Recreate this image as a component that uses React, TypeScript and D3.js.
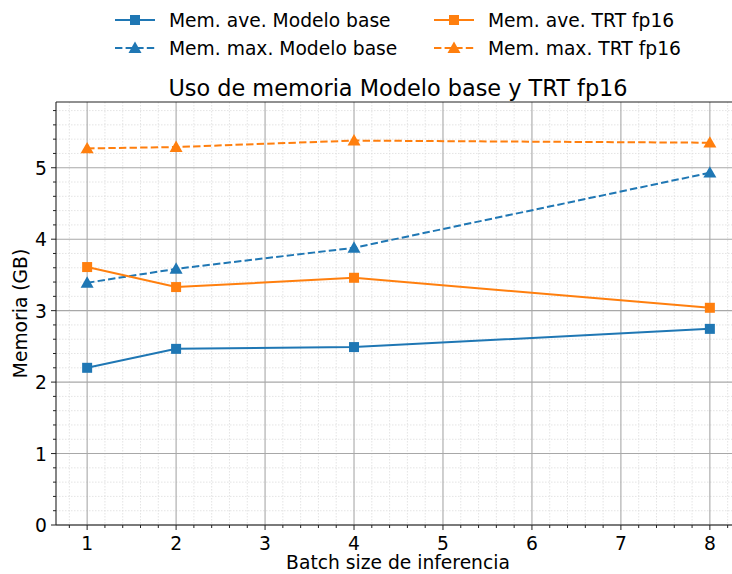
import React from "react";
import * as d3 from "d3";

const batchSizes = [1, 2, 4, 8];
const aveBase = [2.2, 2.465, 2.49, 2.745];
const maxBase = [3.39, 3.585, 3.88, 4.93];
const aveTrt = [3.61, 3.33, 3.46, 3.04];
const maxTrt = [5.27, 5.29, 5.38, 5.35];
const xTicks = [1, 2, 3, 4, 5, 6, 7, 8];
const yTicks = [0, 1, 2, 3, 4, 5];
const seriesNames = [
  "Mem. ave. Modelo base",
  "Mem. max. Modelo base",
  "Mem. ave. TRT fp16",
  "Mem. max. TRT fp16",
];

const W = 732;
const H = 574;
const BLUE = "#1f77b4";
const ORANGE = "#ff7f0e";
const FONT = "DejaVu Sans";

export default function App() {
  const left = 56, right = 741, top = 102, bottom = 525;
  const x = d3.scaleLinear().domain([0.65, 8.35]).range([left, right]);
  const y = d3.scaleLinear().domain([0, 5.92]).range([bottom, top]);
  const line = d3.line<number>().x((_, i) => x(batchSizes[i])).y((d) => y(d));

  const xMinor = d3.range(0.8, 8.35, 0.2).filter((v) => Math.abs(v - Math.round(v)) > 0.01);
  const yMinor = d3.range(0.2, 5.92, 0.2).filter((v) => Math.abs(v - Math.round(v)) > 0.01);

  const series = [
    { vals: aveBase, color: BLUE, dashed: false, marker: "square" },
    { vals: maxBase, color: BLUE, dashed: true, marker: "tri" },
    { vals: aveTrt, color: ORANGE, dashed: false, marker: "square" },
    { vals: maxTrt, color: ORANGE, dashed: true, marker: "tri" },
  ];

  const marker = (kind: string, cx: number, cy: number, color: string, key: any) => {
    if (kind === "square") {
      return <rect key={key} x={cx - 5} y={cy - 5} width={10} height={10} fill={color} />;
    }
    const s = 6.5;
    return (
      <path
        key={key}
        d={`M${cx},${cy - s} L${cx + s},${cy + s * 0.75} L${cx - s},${cy + s * 0.75} Z`}
        fill={color}
      />
    );
  };

  const legendItems = [
    { s: series[0], name: seriesNames[0], lx: 115, ly: 20 },
    { s: series[1], name: seriesNames[1], lx: 115, ly: 48 },
    { s: series[2], name: seriesNames[2], lx: 434, ly: 20 },
    { s: series[3], name: seriesNames[3], lx: 434, ly: 48 },
  ];

  return (
    <div style={{ position: "absolute", left: 0, top: 0 }}>
      <svg width={W} height={H} style={{ display: "block", background: "#fff" }} fontFamily={FONT}>
        <defs>
          <clipPath id="plotclip">
            <rect x={left} y={top} width={right - left} height={bottom - top} />
          </clipPath>
        </defs>
        {/* minor grid */}
        <g stroke="#dddddd" strokeWidth={0.8} strokeDasharray="1.5,1.5">
          {xMinor.map((v) => (
            <line key={"xm" + v} x1={x(v)} x2={x(v)} y1={top} y2={bottom} />
          ))}
          {yMinor.map((v) => (
            <line key={"ym" + v} x1={left} x2={right} y1={y(v)} y2={y(v)} />
          ))}
        </g>
        {/* major grid */}
        <g stroke="#a8a8a8" strokeWidth={1.1}>
          {xTicks.map((v) => (
            <line key={"xg" + v} x1={x(v)} x2={x(v)} y1={top} y2={bottom} />
          ))}
          {yTicks.map((v) => (
            <line key={"yg" + v} x1={left} x2={right} y1={y(v)} y2={y(v)} />
          ))}
        </g>
        {/* series */}
        <g clipPath="url(#plotclip)">
          {series.map((s, i) => (
            <g key={i}>
              <path
                d={line(s.vals) || ""}
                fill="none"
                stroke={s.color}
                strokeWidth={2}
                strokeDasharray={s.dashed ? "7.4,3.2" : undefined}
              />
              {s.vals.map((v, j) => marker(s.marker, x(batchSizes[j]), y(v), s.color, j))}
            </g>
          ))}
        </g>
        {/* spines */}
        <g stroke="#222" strokeWidth={1.1}>
          <line x1={left} x2={left} y1={top} y2={bottom} />
          <line x1={left} x2={right} y1={bottom} y2={bottom} />
          <line x1={left} x2={right} y1={top} y2={top} />
        </g>
        {/* ticks */}
        <g stroke="#222" strokeWidth={1}>
          {xTicks.map((v) => (
            <line key={"xt" + v} x1={x(v)} x2={x(v)} y1={bottom} y2={bottom + 5} />
          ))}
          {xMinor.map((v) => (
            <line key={"xmt" + v} x1={x(v)} x2={x(v)} y1={bottom} y2={bottom + 3} />
          ))}
          {yTicks.map((v) => (
            <line key={"yt" + v} x1={left} x2={left - 5} y1={y(v)} y2={y(v)} />
          ))}
          {yMinor.map((v) => (
            <line key={"ymt" + v} x1={left} x2={left - 3} y1={y(v)} y2={y(v)} />
          ))}
        </g>
        <g fontSize={18.7} fill="#000">
          {xTicks.map((v) => (
            <text key={"xl" + v} x={x(v)} y={bottom + 25} textAnchor="middle">
              {v}
            </text>
          ))}
          {yTicks.map((v) => (
            <text key={"yl" + v} x={left - 9} y={y(v) + 7} textAnchor="end">
              {v}
            </text>
          ))}
        </g>
        <text x={398} y={569} fontSize={18.7} textAnchor="middle">
          Batch size de inferencia
        </text>
        <text
          transform={`translate(27,${(top + bottom) / 2}) rotate(-90)`}
          fontSize={18.7}
          textAnchor="middle"
        >
          Memoria (GB)
        </text>
        <text x={398} y={96} fontSize={22.4} textAnchor="middle">
          Uso de memoria Modelo base y TRT fp16
        </text>
        {/* legend */}
        {legendItems.map((it, i) => (
          <g key={"lg" + i}>
            <line
              x1={it.lx}
              x2={it.lx + 40}
              y1={it.ly}
              y2={it.ly}
              stroke={it.s.color}
              strokeWidth={2}
              strokeDasharray={it.s.dashed ? "7.4,3.2" : undefined}
            />
            {marker(it.s.marker, it.lx + 20, it.ly, it.s.color, "m")}
            <text x={it.lx + 54} y={it.ly + 7} fontSize={18.7}>
              {it.name}
            </text>
          </g>
        ))}
      </svg>
    </div>
  );
}
